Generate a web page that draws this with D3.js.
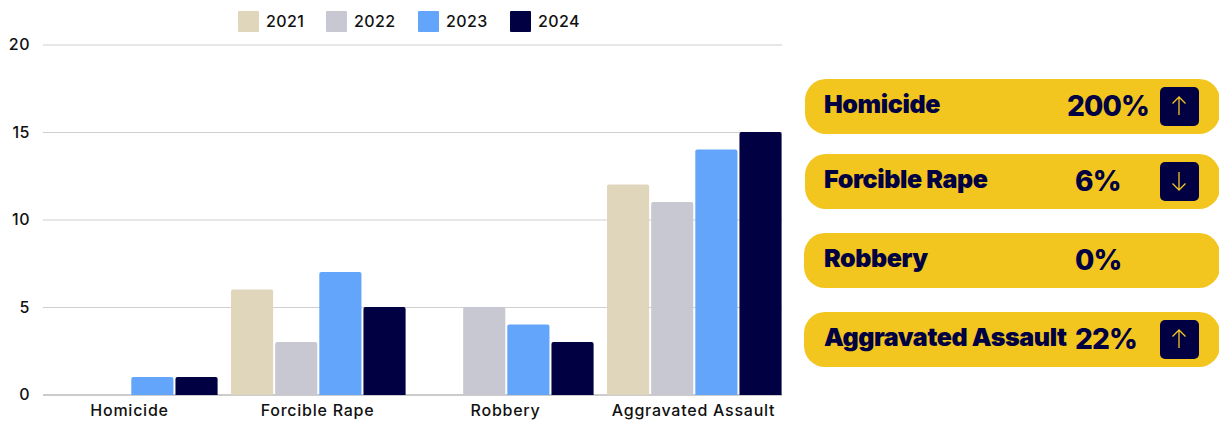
<!DOCTYPE html>
<html><head><meta charset="utf-8">
<script src="https://cdn.jsdelivr.net/npm/d3@7"></script>
<style>html,body{margin:0;padding:0;background:#fff}svg{display:block}text{font-family:Inter,"Noto Sans",sans-serif}</style>
</head><body><svg id="c" width="1219" height="421"></svg>
<script>
const categories=["Homicide","Forcible Rape","Robbery","Aggravated Assault"];
const years=["2021","2022","2023","2024"];
const v2021=[0,6,0,12];
const v2022=[0,3,5,11];
const v2023=[1,7,4,14];
const v2024=[1,5,3,15];
const seriesValues=[v2021,v2022,v2023,v2024];
const colors=["#dfd6bb","#c8c8d2","#64a5fc","#000042"];
const yTicks=[0,5,10,15,20];
const changePct=["200%","6%","0%","22%"];
const changeDir=["up","down","none","up"];

const navy="#000042",gold="#f2c61f";
const svg=d3.select("#c");
const y=d3.scaleLinear().domain([0,20]).range([394.5,44.5]);
const x0=d3.scaleBand().domain(categories).range([43,782]).paddingInner(13/188).paddingOuter(0);
const x1=d3.scaleBand().domain(years).range([0,174.6]).paddingInner(2/44).paddingOuter(0);

// grid + y axis
const gy=svg.append("g").attr("transform","translate(43,0)")
  .call(d3.axisLeft(y).tickValues(yTicks).tickSize(-739).tickPadding(12));
gy.select(".domain").remove();
gy.selectAll(".tick line").attr("stroke",d=>d===0?"#999":"#cfcfcf").attr("stroke-width",1);
gy.selectAll(".tick text").attr("fill","#111").style("font-size","16px").style("font-weight",500).style("letter-spacing","0.5px").attr("text-anchor","end").attr("x",-13).attr("dy","0.32em");

// bars
function barPath(xp,yp,w,h,r){
  if(h<=0) return "";
  return `M${xp},${yp+h+0.5}V${yp+r}Q${xp},${yp} ${xp+r},${yp}H${xp+w-r}Q${xp+w},${yp} ${xp+w},${yp+r}V${yp+h+0.5}Z`;
}
years.forEach((yr,i)=>{
  svg.append("g").selectAll("path").data(seriesValues[i]).join("path")
    .attr("d",(d,j)=>barPath(x0(categories[j])+x1(yr),y(d),x1.bandwidth(),y(0)-y(d),2))
    .attr("fill",colors[i]);
});

// x labels
const gx=svg.append("g").attr("transform","translate(-1,396)")
  .call(d3.axisBottom(x0).tickSize(0).tickPadding(9));
gx.select(".domain").remove();
gx.selectAll(".tick text").attr("fill","#111").style("font-size","16px").style("font-weight",500).style("letter-spacing","0.75px");

// legend
const legendX=d3.scaleOrdinal().domain(years).range([238,326,418,510]);
const lg=svg.append("g").selectAll("g").data(years).join("g").attr("transform",d=>`translate(${legendX(d)},11)`);
lg.append("rect").attr("width",21).attr("height",21).attr("rx",1).attr("fill",(d,i)=>colors[i]);
lg.append("text").attr("x",28).attr("y",16).text(d=>d).attr("fill","#111").style("font-size","16px").style("font-weight",500).style("letter-spacing","0.4px");

// cards
const cardY=d3.scaleOrdinal().domain(categories).range([79,154,233,312]);
const cardX=[805,805,804,804];
const pctX=[1067,1075,1075,1075];
const cards=svg.append("g").selectAll("g").data(categories).join("g").attr("transform",d=>`translate(0,${cardY(d)})`);
cards.append("rect").attr("x",(d,i)=>cardX[i]).attr("width",(d,i)=>1220-cardX[i]).attr("height",55).attr("rx",21).attr("fill",gold);
cards.append("text").attr("x",824).attr("y",34).text(d=>d).attr("fill",navy)
  .style("font-size","25px").style("font-weight",900).style("letter-spacing","-0.4px");
cards.append("text").attr("x",(d,i)=>pctX[i]).attr("y",37).text((d,i)=>changePct[i]).attr("fill",navy)
  .style("font-size","28px").style("font-weight",800).style("letter-spacing","-0.9px");
cards.each(function(d,i){
  if(changeDir[i]==="none")return;
  const g=d3.select(this);
  g.append("rect").attr("x",1160).attr("y",8).attr("width",39).attr("height",39).attr("rx",5).attr("fill",navy);
  const p=changeDir[i]==="up"?"M1179,36V18M1172.5,24.5L1179,18L1185.5,24.5":"M1179,18V36M1172.5,29.5L1179,36L1185.5,29.5";
  g.append("path").attr("d",p).attr("fill","none").attr("stroke",gold).attr("stroke-width",1.3);
});
</script></body></html>
